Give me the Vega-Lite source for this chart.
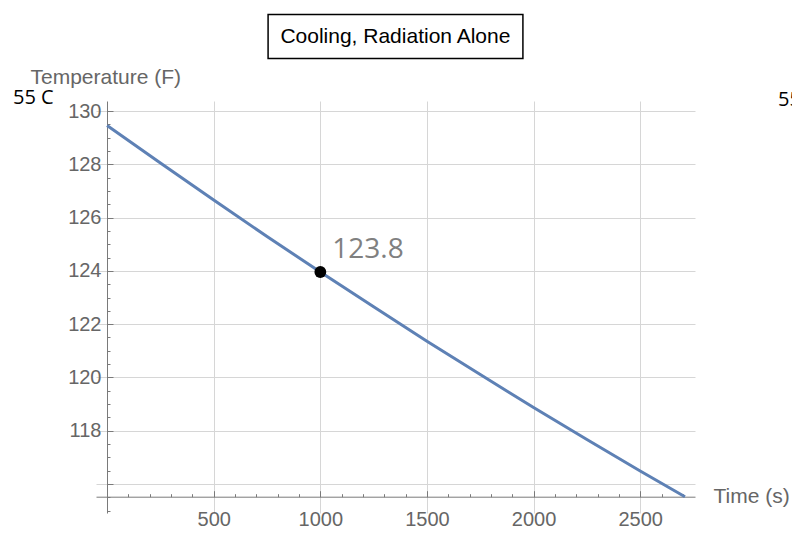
{
  "$schema": "https://vega.github.io/schema/vega-lite/v6.json",
  "width": 599,
  "height": 412,
  "autosize": {"type": "none"},
  "padding": {"left": 96, "top": 101, "right": 97, "bottom": 21},
  "background": "white",
  "config": {"view": {"stroke": null}, "font": "Liberation Sans"},
  "datasets": {
    "curve": [
      {"t": 0, "T": 129.46},
      {"t": 250, "T": 128.05},
      {"t": 500, "T": 126.66},
      {"t": 750, "T": 125.29},
      {"t": 1000, "T": 123.96},
      {"t": 1250, "T": 122.65},
      {"t": 1500, "T": 121.36},
      {"t": 1750, "T": 120.11},
      {"t": 2000, "T": 118.87},
      {"t": 2250, "T": 117.67},
      {"t": 2500, "T": 116.49},
      {"t": 2710, "T": 115.52}
    ],
    "marker": [{"t": 1000, "T": 123.96, "label": "123.8"}]
  },
  "resolve": {"axis": {"x": "independent", "y": "independent"}},
  "layer": [
    {
      "data": {"name": "curve"},
      "mark": {"type": "line", "color": "#5e81b5", "strokeWidth": 3},
      "encoding": {
        "x": {
          "field": "t", "type": "quantitative",
          "scale": {"domain": [-52, 2757], "nice": false, "zero": false},
          "axis": {
            "orient": "bottom", "offset": -16.3,
            "values": [500, 1000, 1500, 2000, 2500],
            "format": "d", "labelOverlap": false,
            "tickSize": -6, "tickColor": "#7a7a7a", "domainColor": "#7a7a7a",
            "grid": true, "gridColor": "#d6d6d6",
            "labelFontSize": 20, "labelColor": "#666666", "labelPadding": 19,
            "labelFont": "Liberation Sans",
            "title": "Time (s)", "titleX": 617, "titleY": 0,
            "titleAlign": "left", "titleBaseline": "middle", "titleAngle": 0,
            "titleFontSize": 21, "titleFontWeight": "normal", "titleColor": "#666666",
            "titleFont": "Liberation Sans"
          }
        },
        "y": {
          "field": "T", "type": "quantitative",
          "scale": {"domain": [114.91, 130.38], "nice": false, "zero": false},
          "axis": {
            "orient": "left", "offset": -11,
            "values": [116, 118, 120, 122, 124, 126, 128, 130],
            "format": "d", "labelOverlap": false,
            "labelExpr": "datum.value >= 118 ? datum.label : ''",
            "tickSize": -6, "tickColor": "#7a7a7a", "domainColor": "#7a7a7a",
            "grid": true, "gridColor": "#d6d6d6",
            "labelFontSize": 20, "labelColor": "#666666", "labelPadding": 12,
            "labelFont": "Liberation Sans",
            "title": "Temperature (F)", "titleX": -77, "titleY": -24,
            "titleAlign": "left", "titleBaseline": "middle", "titleAngle": 0,
            "titleFontSize": 21, "titleFontWeight": "normal", "titleColor": "#666666",
            "titleFont": "Liberation Sans"
          }
        }
      }
    },
    {
      "data": {"name": "marker"},
      "mark": {"type": "point", "filled": true, "color": "black", "size": 140, "opacity": 1},
      "encoding": {
        "x": {
          "field": "t", "type": "quantitative",
          "axis": {
            "orient": "bottom", "offset": -16.3,
            "values": [100,200,300,400,600,700,800,900,1100,1200,1300,1400,1600,1700,1800,1900,2100,2200,2300,2400,2600,2700],
            "labels": false, "domain": false, "grid": false, "title": null,
            "tickSize": -3, "tickColor": "#7a7a7a"
          }
        },
        "y": {
          "field": "T", "type": "quantitative",
          "axis": {
            "orient": "left", "offset": -11,
            "values": [115,115.5,116.5,117,117.5,118.5,119,119.5,120.5,121,121.5,122.5,123,123.5,124.5,125,125.5,126.5,127,127.5,128.5,129,129.5],
            "labels": false, "domain": false, "grid": false, "title": null,
            "tickSize": -3, "tickColor": "#7a7a7a"
          }
        }
      }
    },
    {
      "data": {"name": "marker"},
      "mark": {"type": "text", "align": "left", "baseline": "middle", "dx": 12, "dy": -22, "fontSize": 28, "font": "Open Sans", "color": "#808080"},
      "encoding": {
        "x": {"field": "t", "type": "quantitative", "axis": null},
        "y": {"field": "T", "type": "quantitative", "axis": null},
        "text": {"field": "label"}
      }
    },
    {
      "data": {"values": [{}]},
      "mark": {"type": "rect", "fill": "white", "stroke": "black", "strokeWidth": 1.5},
      "encoding": {
        "x": {"datum": 755, "type": "quantitative", "axis": null},
        "x2": {"datum": 1950},
        "y": {"datum": 133.63, "type": "quantitative", "axis": null},
        "y2": {"datum": 131.98}
      }
    },
    {
      "data": {"values": [{}]},
      "mark": {"type": "text", "text": "Cooling, Radiation Alone", "align": "center", "baseline": "middle", "fontSize": 21, "font": "Liberation Sans", "color": "black"},
      "encoding": {
        "x": {"datum": 1352, "type": "quantitative", "axis": null},
        "y": {"datum": 132.8, "type": "quantitative", "axis": null}
      }
    },
    {
      "data": {"values": [{}]},
      "mark": {"type": "text", "text": "55 C", "align": "left", "baseline": "middle", "fontSize": 20, "font": "Open Sans", "color": "black"},
      "encoding": {
        "x": {"datum": -441, "type": "quantitative", "axis": null},
        "y": {"datum": 130.48, "type": "quantitative", "axis": null}
      }
    },
    {
      "data": {"values": [{}]},
      "mark": {"type": "text", "text": "55", "align": "left", "baseline": "middle", "fontSize": 20, "font": "Open Sans", "color": "black"},
      "encoding": {
        "x": {"datum": 3146, "type": "quantitative", "axis": null},
        "y": {"datum": 130.4, "type": "quantitative", "axis": null}
      }
    }
  ]
}
